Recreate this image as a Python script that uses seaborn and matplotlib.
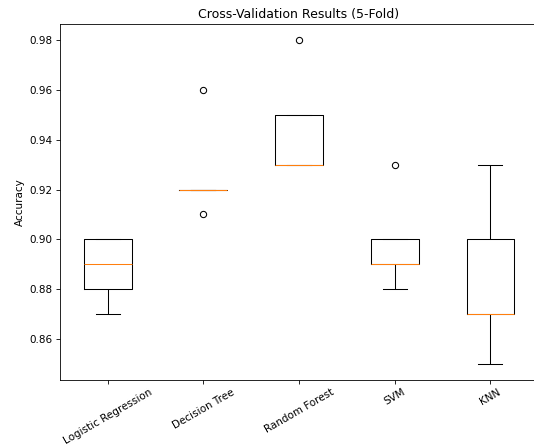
import seaborn as sns
import matplotlib.pyplot as plt
import pandas as pd

models = ["Logistic Regression", "Decision Tree", "Random Forest", "SVM", "KNN"]
logreg = [0.87, 0.88, 0.89, 0.90, 0.90]
dtree = [0.91, 0.92, 0.92, 0.92, 0.96]
rforest = [0.93, 0.93, 0.93, 0.95, 0.98]
svm = [0.88, 0.89, 0.89, 0.90, 0.93]
knn = [0.85, 0.87, 0.87, 0.90, 0.93]

scores = [logreg, dtree, rforest, svm, knn]
df = pd.DataFrame({"Model": [m for m, s in zip(models, scores) for _ in s],
                   "Accuracy": [v for s in scores for v in s]})

# drawn at 75 dpi so text comes out at the smaller size of the reference
fig, ax = plt.subplots(figsize=(534 / 75, 448 / 75), dpi=75)

sns.boxplot(data=df, x="Model", y="Accuracy", ax=ax, width=0.5, fill=False,
            color="black", linewidth=1, whis=1.49,
            medianprops=dict(color="#ff7f0e"),
            flierprops=dict(marker="o", markerfacecolor="none", markeredgecolor="black", markersize=6))

ax.set_title("Cross-Validation Results (5-Fold)")
ax.set_xlabel("")
ax.set_ylabel("Accuracy")
plt.xticks(rotation=30)
fig.subplots_adjust(left=0.112, right=1.008, top=0.946, bottom=0.152)
fig.savefig("out.png")
